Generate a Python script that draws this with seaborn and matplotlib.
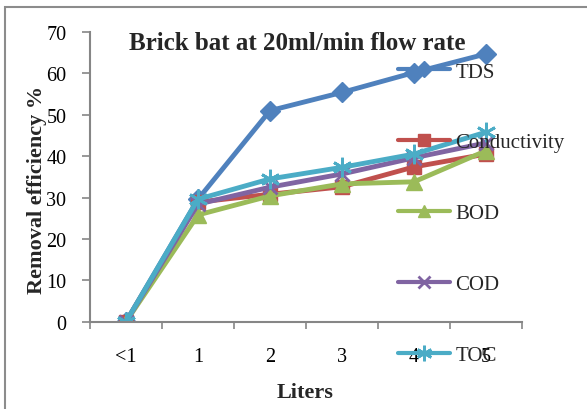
import matplotlib
matplotlib.use("Agg")
import matplotlib.pyplot as plt
import seaborn as sns
import pandas as pd
from matplotlib.patches import Rectangle
from matplotlib.lines import Line2D

categories = ["<1", "1", "2", "3", "4", "5"]
tds = [0, 29.6, 51.0, 55.4, 60.2, 64.7]
conductivity = [0, 28.9, 30.8, 32.6, 37.4, 40.5]
bod = [0, 25.8, 30.4, 33.3, 33.8, 41.3]
cod = [0, 28.4, 32.5, 35.7, 39.6, 43.2]
toc = [0, 29.6, 34.5, 37.3, 40.5, 45.8]

series = [
    ("TDS", tds, "#4F81BD", "D", 10),
    ("Conductivity", conductivity, "#C0504D", "s", 10),
    ("BOD", bod, "#9BBB59", "^", 11),
    ("COD", cod, "#8064A2", "x", 10),
    ("TOC", toc, "#4BACC6", (6, 2, 0), 14),
]

sns.set_theme(style="white")
plt.rcParams["font.family"] = ["Liberation Serif", "DejaVu Serif"]

W, H = 587, 410
fig = plt.figure(figsize=(W / 100, H / 100), dpi=100)
ax = fig.add_axes([90 / W, 1 - 322.7 / H, (522 - 90) / W, (322.7 - 33) / H])

pos = list(range(len(categories)))
handles = []
for name, vals, col, mk, ms in series:
    df = pd.DataFrame({"x": pos, "y": vals})
    mew = 2 if mk in ("x", (6, 2, 0)) else 1
    sns.lineplot(data=df, x="x", y="y", ax=ax, color=col, linewidth=3.5,
                 marker=mk, markersize=ms, markeredgecolor=col,
                 markeredgewidth=mew, legend=False)
    handles.append(Line2D([0], [0], color=col, lw=3, marker=mk,
                          markersize=ms * 0.8, markeredgecolor=col,
                          markeredgewidth=mew, label=name))

ax.set_xlim(-0.5, 5.5)
ax.set_ylim(0, 70)
ax.set_yticks(range(0, 71, 10))
ax.set_xticks(pos)
ax.set_xticklabels(categories)
ax.set_xticks([p - 0.5 for p in pos] + [5.5], minor=True)
ax.tick_params(axis="x", which="major", length=0, pad=18, labelsize=14.5, colors="black")
ax.tick_params(axis="x", which="minor", length=5, width=1.2, color="#868686", direction="out", bottom=True)
ax.tick_params(axis="y", length=6, width=1.2, color="#868686", direction="out", left=True,
               pad=11, labelsize=14.5, labelcolor="black")
for s in ["top", "right"]:
    ax.spines[s].set_visible(False)
for s in ["left", "bottom"]:
    ax.spines[s].set_color("#868686")
    ax.spines[s].set_linewidth(1.5)
ax.set_xlabel("")
ax.set_ylabel("")
ax.patch.set_alpha(0)

fig.text(37 / W, 1 - 190 / H, "Removal efficiency %", rotation=90, ha="center", va="center",
         fontsize=16, fontweight="bold")
fig.text(305 / W, 1 - 393 / H, "Liters", ha="center", va="center", fontsize=16, fontweight="bold")
fig.text(297 / W, 1 - 44 / H, "Brick bat at 20ml/min flow rate", ha="center", va="center",
         fontsize=18, fontweight="bold")

leg = fig.legend(handles=handles, loc="upper left", bbox_to_anchor=(398 / W, 1 - 63 / H),
                 frameon=False, fontsize=15, handlelength=2.5, labelspacing=2.46,
                 handletextpad=0.25, borderpad=0, borderaxespad=0)

fig.patches.append(Rectangle((5 / W, -0.05), 1.2, 1 - 8 / H + 0.05, transform=fig.transFigure,
                             fill=False, edgecolor="#8c8c8c", lw=1.5, zorder=0))

fig.savefig("out.png", dpi=100)
